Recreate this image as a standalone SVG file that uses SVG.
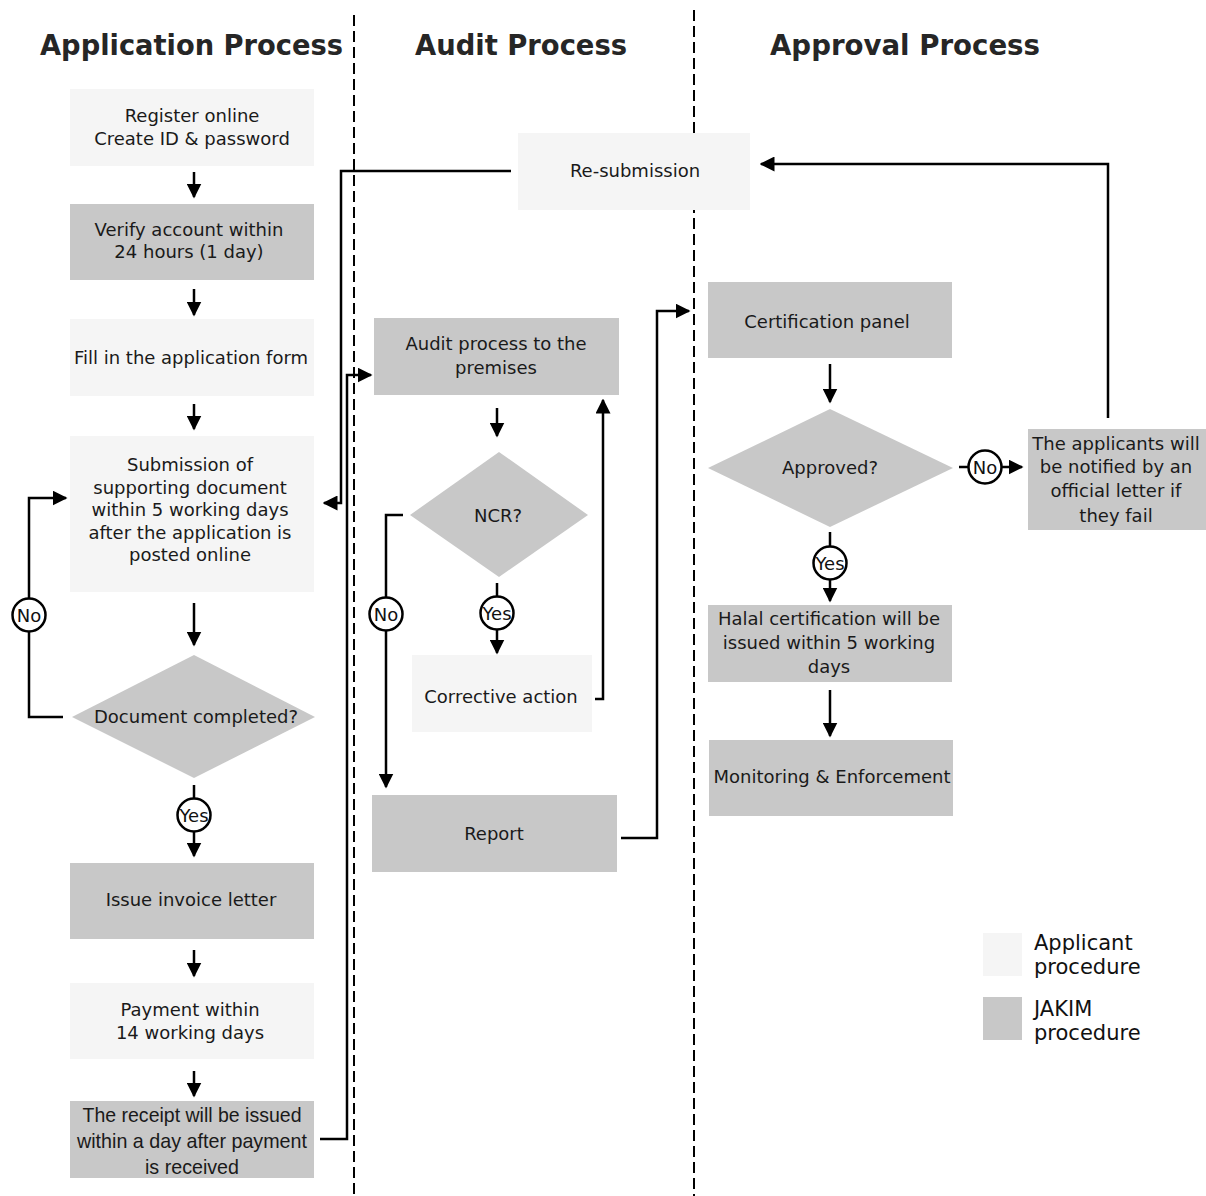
<svg xmlns="http://www.w3.org/2000/svg" width="1206" height="1196" viewBox="0 0 1206 1196">
<style>
.title{font-family:"DejaVu Sans",Verdana,sans-serif;font-weight:bold;font-size:29px;fill:#262626}
.t{font-family:"DejaVu Sans",Verdana,sans-serif;font-size:18px;fill:#1a1a1a;text-anchor:middle}
.tn{font-family:"Liberation Sans",Arial,sans-serif;font-size:21px;fill:#1a1a1a;text-anchor:middle}
.lg{font-family:"DejaVu Sans",Verdana,sans-serif;font-size:21px;fill:#111}
.light{fill:#f5f5f5}
.gray{fill:#c8c8c8}
.arr{fill:none;stroke:#000;stroke-width:2.5;marker-end:url(#ah)}
.dash{fill:none;stroke:#000;stroke-width:2;stroke-dasharray:11 5}
.circ{fill:#fff;stroke:#000;stroke-width:2.5}
.ct{font-family:"DejaVu Sans",Verdana,sans-serif;font-size:18px;fill:#111;text-anchor:middle}
</style>
<defs>
<marker id="ah" markerUnits="userSpaceOnUse" markerWidth="15" markerHeight="15" viewBox="0 0 10 10" refX="9" refY="5" orient="auto">
<path d="M0,0 L10,5 L0,10 z" fill="#000"/>
</marker>
</defs>
<rect width="1206" height="1196" fill="#fff"/>

<g id="lanes">
<line class="dash" x1="354" y1="15" x2="354" y2="1196"/>
<line class="dash" x1="694" y1="10" x2="694" y2="1196"/>
<text class="title" x="40" y="55" textLength="303" lengthAdjust="spacingAndGlyphs">Application Process</text>
<text class="title" x="415" y="55" textLength="212" lengthAdjust="spacingAndGlyphs">Audit Process</text>
<text class="title" x="770" y="55" textLength="270" lengthAdjust="spacingAndGlyphs">Approval Process</text>
</g>

<g id="connectors">
<line class="arr" x1="194" y1="172" x2="194" y2="197"/>
<line class="arr" x1="194" y1="289" x2="194" y2="315"/>
<line class="arr" x1="194" y1="404" x2="194" y2="429"/>
<line class="arr" x1="194" y1="603" x2="194" y2="645"/>
<polyline class="arr" points="63,717 29,717 29,498 66,498"/>
<line class="arr" x1="194" y1="785" x2="194" y2="856"/>
<line class="arr" x1="194" y1="950" x2="194" y2="976"/>
<line class="arr" x1="194" y1="1071" x2="194" y2="1096"/>
<polyline class="arr" points="320,1139 347,1139 347,375 371,375"/>
<polyline class="arr" points="511,171 341,171 341,503 324,503"/>
<line class="arr" x1="497" y1="408" x2="497" y2="436"/>
<polyline class="arr" points="403,515 386,515 386,787"/>
<line class="arr" x1="497" y1="583" x2="497" y2="653"/>
<polyline class="arr" points="595,699 603,699 603,400"/>
<polyline class="arr" points="621,838 657,838 657,311 689,311"/>
<polyline class="arr" points="1108,418 1108,164 761,164"/>
<line class="arr" x1="830" y1="364" x2="830" y2="402"/>
<line class="arr" x1="959" y1="467" x2="1022" y2="467"/>
<line class="arr" x1="830" y1="532" x2="830" y2="601"/>
<line class="arr" x1="830" y1="690" x2="830" y2="736"/>
<circle class="circ" cx="29" cy="615" r="16.5"/>
<text class="ct" x="29" y="622">No</text>
<circle class="circ" cx="194" cy="815" r="16.5"/>
<text class="ct" x="194" y="822">Yes</text>
<circle class="circ" cx="386" cy="614" r="16.5"/>
<text class="ct" x="386" y="621">No</text>
<circle class="circ" cx="497" cy="613" r="16.5"/>
<text class="ct" x="497" y="620">Yes</text>
<circle class="circ" cx="985" cy="467" r="16.5"/>
<text class="ct" x="985" y="474">No</text>
<circle class="circ" cx="830" cy="563" r="16.5"/>
<text class="ct" x="830" y="570">Yes</text>
</g>

<g id="register">
<rect class="light" x="70" y="89" width="244" height="77"/>
<text class="t" x="192" y="122">Register online</text>
<text class="t" x="192" y="145">Create ID &amp; password</text>
</g>
<g id="verify">
<rect class="gray" x="70" y="204" width="244" height="76"/>
<text class="t" x="189" y="236">Verify account within</text>
<text class="t" x="189" y="258">24 hours (1 day)</text>
</g>
<g id="fill-form">
<rect class="light" x="70" y="319" width="244" height="77"/>
<text class="t" x="191" y="364">Fill in the application form</text>
</g>
<g id="submission">
<rect class="light" x="70" y="436" width="244" height="156"/>
<text class="t" x="190" y="471">Submission of</text>
<text class="t" x="190" y="494">supporting document</text>
<text class="t" x="190" y="516">within 5 working days</text>
<text class="t" x="190" y="539">after the application is</text>
<text class="t" x="190" y="561">posted online</text>
</g>
<g id="doc-completed">
<polygon class="gray" points="194,655 315,717 194,778 72,717"/>
<text class="t" x="196" y="723">Document completed?</text>
</g>
<g id="invoice">
<rect class="gray" x="70" y="863" width="244" height="76"/>
<text class="t" x="191" y="906">Issue invoice letter</text>
</g>
<g id="payment">
<rect class="light" x="70" y="983" width="244" height="76"/>
<text class="t" x="190" y="1016">Payment within</text>
<text class="t" x="190" y="1039">14 working days</text>
</g>
<g id="receipt">
<rect class="gray" x="70" y="1101" width="244" height="77"/>
<text class="tn" x="192" y="1122" textLength="219" lengthAdjust="spacingAndGlyphs">The receipt will be issued</text>
<text class="tn" x="192" y="1148" textLength="230" lengthAdjust="spacingAndGlyphs">within a day after payment</text>
<text class="tn" x="192" y="1174" textLength="94" lengthAdjust="spacingAndGlyphs">is received</text>
</g>

<g id="resubmission">
<rect class="light" x="518" y="133" width="232" height="77"/>
<text class="t" x="635" y="177">Re-submission</text>
</g>
<g id="audit">
<rect class="gray" x="374" y="318" width="245" height="77"/>
<text class="t" x="496" y="350">Audit process to the</text>
<text class="t" x="496" y="374">premises</text>
</g>
<g id="ncr">
<polygon class="gray" points="499,452 588,515 499,577 410,515"/>
<text class="t" x="498" y="522">NCR?</text>
</g>
<g id="corrective">
<rect class="light" x="412" y="655" width="180" height="77"/>
<text class="t" x="501" y="703">Corrective action</text>
</g>
<g id="report">
<rect class="gray" x="372" y="795" width="245" height="77"/>
<text class="t" x="494" y="840">Report</text>
</g>

<g id="cert-panel">
<rect class="gray" x="708" y="282" width="244" height="76"/>
<text class="t" x="827" y="328">Certification panel</text>
</g>
<g id="approved">
<polygon class="gray" points="830,409 953,468 830,527 708,468"/>
<text class="t" x="830" y="474">Approved?</text>
</g>
<g id="notified">
<rect class="gray" x="1028" y="429" width="178" height="101"/>
<text class="t" x="1116" y="450">The applicants will</text>
<text class="t" x="1116" y="473">be notified by an</text>
<text class="t" x="1116" y="497">official letter if</text>
<text class="t" x="1116" y="522">they fail</text>
</g>
<g id="halal">
<rect class="gray" x="708" y="605" width="244" height="77"/>
<text class="t" x="829" y="625">Halal certification will be</text>
<text class="t" x="829" y="649">issued within 5 working</text>
<text class="t" x="829" y="673">days</text>
</g>
<g id="monitoring">
<rect class="gray" x="709" y="740" width="244" height="76"/>
<text class="t" x="832" y="783">Monitoring &amp; Enforcement</text>
</g>

<g id="legend">
<rect class="light" x="983" y="933" width="39" height="43"/>
<text class="lg" x="1034" y="950">Applicant</text>
<text class="lg" x="1034" y="974">procedure</text>
<rect class="gray" x="983" y="997" width="39" height="43"/>
<text class="lg" x="1034" y="1016">JAKIM</text>
<text class="lg" x="1034" y="1040">procedure</text>
</g>
</svg>
